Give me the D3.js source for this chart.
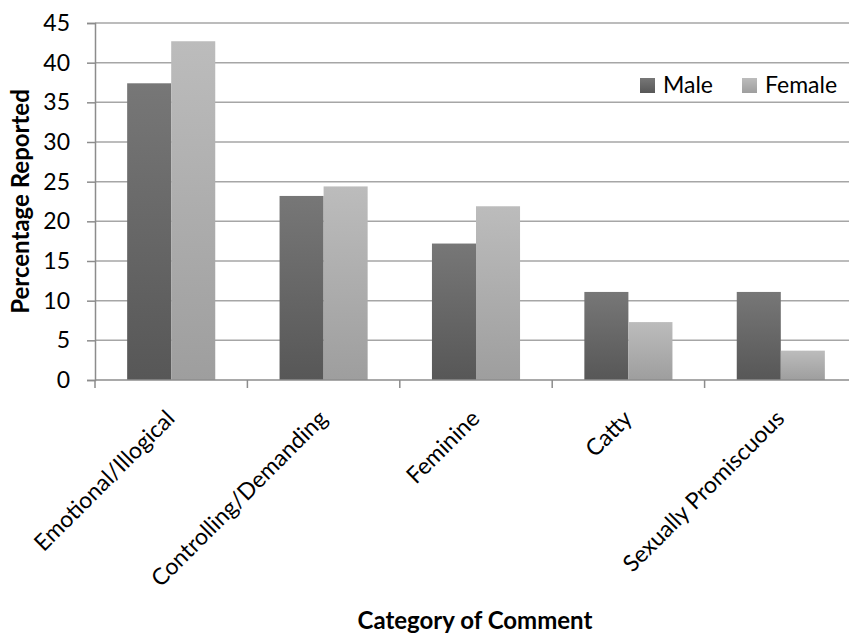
<!DOCTYPE html>
<html>
<head>
<meta charset="utf-8">
<script src="https://cdn.jsdelivr.net/npm/d3@7"></script>
<style>
  html, body { margin: 0; padding: 0; background: #fff; }
  svg { display: block; font-family: Lato, "Open Sans", sans-serif; }
</style>
</head>
<body>
<svg id="chart" width="849" height="636"></svg>
<script>
// Share of comments reported in each category, by respondent gender
const categories = ["Emotional/Illogical", "Controlling/Demanding", "Feminine", "Catty", "Sexually Promiscuous"];
const seriesNames = ["Male", "Female"];
const maleValues = [37.4, 23.2, 17.2, 11.1, 11.1];
const femaleValues = [42.7, 24.4, 21.9, 7.3, 3.7];
const yTicks = [0, 5, 10, 15, 20, 25, 30, 35, 40, 45];

const rows = categories.map((c, i) => ({ category: c, Male: maleValues[i], Female: femaleValues[i] }));

const FONT = "Lato, 'Open Sans', sans-serif";
const svg = d3.select("#chart");
const margin = { left: 95, top: 23, right: -8, bottom: 256 };
const W = 849, H = 636;
const plotW = W - margin.left - margin.right;
const plotH = H - margin.top - margin.bottom;

const x0 = d3.scaleBand().domain(categories).range([0, plotW]).paddingInner(0).paddingOuter(0);
const x1 = d3.scaleBand().domain(seriesNames).range([0, x0.bandwidth()]).paddingInner(0).paddingOuter(0.73);
const y = d3.scaleLinear().domain([0, 45]).range([plotH, 0]);

// Vertical gradients for the two series
const defs = svg.append("defs");
const grads = {
  Male: ["#777777", "#575757"],
  Female: ["#bcbcbc", "#9e9e9e"]
};
seriesNames.forEach(s => {
  const g = defs.append("linearGradient").attr("id", "grad-" + s)
    .attr("x1", 0).attr("y1", 0).attr("x2", 0).attr("y2", 1);
  g.append("stop").attr("offset", "0%").attr("stop-color", grads[s][0]);
  g.append("stop").attr("offset", "100%").attr("stop-color", grads[s][1]);
});

const plot = svg.append("g").attr("transform", `translate(${margin.left},${margin.top})`);

// Horizontal gridlines
plot.append("g").selectAll("line").data(yTicks.filter(t => t > 0)).join("line")
  .attr("x1", 0).attr("x2", plotW)
  .attr("y1", d => y(d)).attr("y2", d => y(d))
  .attr("stroke", "#a6a6a6").attr("stroke-width", 1.5);

// Bars
const groups = plot.append("g").selectAll("g").data(rows).join("g")
  .attr("transform", d => `translate(${x0(d.category)},0)`);
groups.selectAll("rect").data(d => seriesNames.map(s => ({ s, v: d[s] }))).join("rect")
  .attr("x", d => x1(d.s))
  .attr("width", x1.bandwidth())
  .attr("y", d => y(d.v))
  .attr("height", d => plotH - y(d.v))
  .attr("fill", d => `url(#grad-${d.s})`);

// Y axis
const yAxis = plot.append("g")
  .call(d3.axisLeft(y).tickValues(yTicks).tickSize(8).tickPadding(17));
yAxis.select(".domain").attr("stroke", "#8c8c8c").attr("stroke-width", 1.5);
yAxis.selectAll(".tick line").attr("stroke", "#8c8c8c").attr("stroke-width", 1.5);
yAxis.selectAll(".tick text").attr("font-size", 23).attr("fill", "#000")
  .attr("font-family", FONT);

// X axis with ticks at category boundaries
const xAxisG = plot.append("g").attr("transform", `translate(0,${plotH})`);
xAxisG.append("line").attr("x1", 0).attr("x2", plotW).attr("y1", 0).attr("y2", 0)
  .attr("stroke", "#8c8c8c").attr("stroke-width", 1.5);
const boundaries = categories.map(c => x0(c)).concat([plotW]);
xAxisG.selectAll("line.tk").data(boundaries).join("line").attr("class", "tk")
  .attr("x1", d => d).attr("x2", d => d).attr("y1", 0).attr("y2", 8)
  .attr("stroke", "#8c8c8c").attr("stroke-width", 1.5);
xAxisG.selectAll("text").data(categories).join("text")
  .attr("transform", d => `translate(${x0(d) + x0.bandwidth() / 2 + 5},${40}) rotate(-45)`)
  .attr("text-anchor", "end")
  .attr("font-size", 23)
  .attr("fill", "#000")
  .text(d => d);

// Axis titles
svg.append("text")
  .attr("transform", `translate(29,${margin.top + plotH / 2}) rotate(-90)`)
  .attr("text-anchor", "middle")
  .attr("font-size", 24).attr("font-weight", "bold")
  .text("Percentage Reported");
svg.append("text")
  .attr("x", 475).attr("y", 629)
  .attr("text-anchor", "middle")
  .attr("font-size", 24).attr("font-weight", "bold")
  .text("Category of Comment");

// Legend
const legend = svg.append("g").attr("transform", "translate(640,78)");
const legItems = legend.selectAll("g").data(seriesNames).join("g")
  .attr("transform", (d, i) => `translate(${i * 102},0)`);
legItems.append("rect").attr("width", 15).attr("height", 15)
  .attr("fill", d => `url(#grad-${d})`);
legItems.append("text").attr("x", 23).attr("y", 15)
  .attr("font-size", 23).attr("fill", "#000").text(d => d);
</script>
</body>
</html>
